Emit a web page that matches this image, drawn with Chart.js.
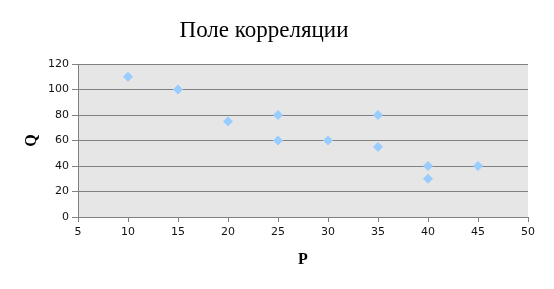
<!DOCTYPE html>
<html>
<head>
<meta charset="utf-8">
<script src="https://cdn.jsdelivr.net/npm/chart.js@4"></script>
<style>
  html, body { margin: 0; padding: 0; background: #fff; }
  #wrap { width: 554px; height: 289px; }
</style>
</head>
<body>
<div id="wrap"><canvas id="corrChart" width="554" height="289"></canvas></div>
<script>
// data
const priceP = [10, 15, 20, 25, 25, 30, 35, 35, 40, 40, 45];
const quantityQ = [110, 100, 75, 80, 60, 60, 80, 55, 40, 30, 40];
const xTicks = [5, 10, 15, 20, 25, 30, 35, 40, 45, 50];
const yTicks = [0, 20, 40, 60, 80, 100, 120];

const points = priceP.map((p, i) => ({ x: p, y: quantityQ[i] }));

// grey plot area behind the points
const plotBg = {
    id: 'plotBg',
    beforeDraw(chart) {
        const { ctx, chartArea: a } = chart;
        ctx.save();
        ctx.fillStyle = '#e6e6e6';
        ctx.fillRect(a.left, a.top, a.right - a.left, a.bottom - a.top);
        ctx.restore();
    }
};

const tickFont = { family: 'DejaVu Sans', size: 11 };

new Chart(document.getElementById('corrChart').getContext('2d'), {
    type: 'scatter',
    data: {
        datasets: [{
            label: 'Q',
            data: points,
            pointStyle: 'rectRot',
            pointRadius: 4.5,
            pointHoverRadius: 4.5,
            backgroundColor: '#99ccff',
            borderColor: '#99ccff',
            borderWidth: 1
        }]
    },
    options: {
        responsive: false,
        animation: false,
        layout: { padding: { left: 0, right: 26, top: 0, bottom: 0 } },
        scales: {
            x: {
                type: 'linear',
                min: xTicks[0],
                max: xTicks[xTicks.length - 1],
                afterFit(scale) { scale.height = 72; },
                afterBuildTicks(scale) { scale.ticks = xTicks.map(v => ({ value: v })); },
                grid: { drawOnChartArea: false, drawTicks: true, tickLength: 5, color: '#808080' },
                border: { color: '#808080' },
                ticks: { font: tickFont, color: '#111', padding: 4, maxRotation: 0 },
                title: {
                    display: true,
                    text: 'P',
                    font: { family: 'Liberation Serif', size: 16, weight: 'bold' },
                    color: '#000',
                    padding: { top: 0, bottom: 20 }
                }
            },
            y: {
                type: 'linear',
                min: yTicks[0],
                max: yTicks[yTicks.length - 1],
                afterFit(scale) { scale.width = 78; },
                afterBuildTicks(scale) { scale.ticks = yTicks.map(v => ({ value: v })); },
                grid: { color: '#808080', tickLength: 6 },
                border: { color: '#808080' },
                ticks: { font: tickFont, color: '#111', padding: 3 },
                title: {
                    display: true,
                    text: 'Q',
                    font: { family: 'Liberation Serif', size: 16, weight: 'bold' },
                    color: '#000',
                    padding: { top: 22, bottom: 0 }
                }
            }
        },
        plugins: {
            legend: { display: false },
            tooltip: { enabled: false },
            title: {
                display: true,
                text: 'Поле корреляции',
                font: { family: 'Liberation Serif', size: 23, weight: 'normal' },
                color: '#000',
                padding: { top: 17, bottom: 19.4 }
            }
        }
    },
    plugins: [plotBg]
});
</script>
</body>
</html>
